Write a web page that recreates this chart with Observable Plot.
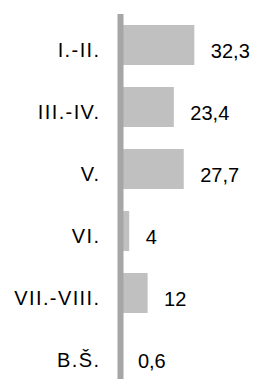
<!DOCTYPE html>
<html>
<head>
<meta charset="utf-8">
<script src="https://cdn.jsdelivr.net/npm/d3@7"></script>
<script src="https://cdn.jsdelivr.net/npm/@observablehq/plot@0.6"></script>
<style>
  html, body { margin: 0; padding: 0; background: #fff; }
  svg { display: block; }
  g[aria-label="y-axis tick label"] text { letter-spacing: 1.4px; }
</style>
</head>
<body>
<div id="chart"></div>
<script>
const categories = ["I.-II.", "III.-IV.", "V.", "VI.", "VII.-VIII.", "B.Š."];
const values = [32.3, 23.4, 27.7, 4, 12, 0.6];

const data = categories.map((c, i) => ({ cat: c, value: values[i] }));
const fmt = v => String(v).replace(".", ",");

const chart = Plot.plot({
  width: 256,
  height: 379,
  marginLeft: 120,
  marginRight: 0,
  marginTop: 14,
  marginBottom: 0,
  style: { fontFamily: "Liberation Sans, Arial, sans-serif", background: "#fff" },
  x: { domain: [0, 59.1], axis: null },
  y: { domain: categories, paddingInner: 0.355, paddingOuter: 0.121, align: 0.73, axis: null },
  marks: [
    Plot.barX(data, { x: "value", y: "cat", fill: "#c0c0c0" }),
    Plot.ruleX([0], { stroke: "#a6a6a6", strokeWidth: 6 }),
    Plot.axisY({ tickSize: 0, tickPadding: 20, fontSize: 20, dy: 5, fill: "#000", label: null }),
    Plot.text(data, { x: "value", y: "cat", text: d => fmt(d.value), textAnchor: "start", dx: 16, dy: 6, fontSize: 20, fill: "#000" })
  ]
});
document.getElementById("chart").appendChild(chart);
</script>
</body>
</html>
